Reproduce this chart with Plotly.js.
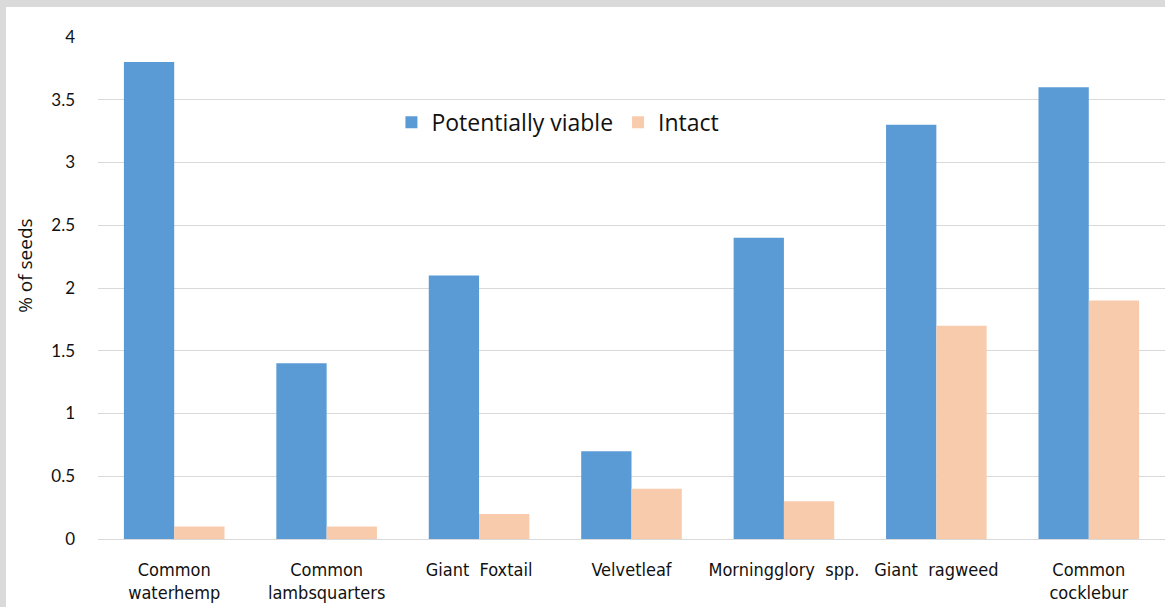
<!DOCTYPE html>
<html><head><meta charset="utf-8">
<script src="https://cdn.plot.ly/plotly-3.0.1.min.js"></script>
<style>
html,body{margin:0;padding:0;background:#dadada;width:1165px;height:607px;overflow:hidden}
#chart{position:absolute;left:6px;top:7px;width:1159px;height:600px;background:#fff}
</style></head>
<body><div id="chart"></div>
<script>
const categories = ["Common<br>waterhemp","Common<br>lambsquarters","Giant  Foxtail","Velvetleaf","Morningglory  spp.","Giant  ragweed","Common<br>cocklebur"];
const potentiallyViable = [3.8, 1.4, 2.1, 0.7, 2.4, 3.3, 3.6];
const intact = [0.1, 0.1, 0.2, 0.4, 0.3, 1.7, 1.9];
const yTickVals = [0,0.5,1,1.5,2,2.5,3,3.5,4];
const yTickText = ["0","0.5","1","1.5","2","2.5","3","3.5","4"];

const traces = [
  {type:"bar", name:"Potentially viable", x:categories, y:potentiallyViable, marker:{color:"#5b9bd5"}},
  {type:"bar", name:"Intact", x:categories, y:intact, marker:{color:"#f8cbad"}}
];
const layout = {
  width:1159, height:600,
  margin:{l:92, r:0, t:30, b:68},
  paper_bgcolor:"#ffffff", plot_bgcolor:"#ffffff",
  barmode:"group", bargap:0.34, bargroupgap:0,
  showlegend:true,
  legend:{orientation:"h", x:0.275, y:0.83, xanchor:"left", yanchor:"middle",
    font:{family:"'Open Sans', Lato, sans-serif", size:23, color:"#111"}, bgcolor:"rgba(0,0,0,0)", itemwidth:20},
  xaxis:{type:"category", tickfont:{family:"'Liberation Sans Narrow', 'DejaVu Sans Condensed', sans-serif", size:18, color:"#111"},
    showline:true, linecolor:"#d9d9d9", linewidth:1, ticks:"", showgrid:false, ticklabelstandoff:14},
  yaxis:{range:[0,4], tickvals:yTickVals, ticktext:yTickText, showgrid:true, gridcolor:"#d9d9d9", gridwidth:1,
    zeroline:false, ticks:"", ticklabelstandoff:22,
    tickfont:{family:"Lato, 'Open Sans', sans-serif", size:17, color:"#111"}},
  annotations:[{text:"% of seeds", xref:"paper", yref:"paper", x:-0.068, y:0.545, xanchor:"center", yanchor:"middle",
    textangle:-90, showarrow:false, font:{family:"'Open Sans', Lato, sans-serif", size:19, color:"#111"}}]
};
Plotly.newPlot("chart", traces, layout, {displayModeBar:false, staticPlot:true});
</script></body></html>
